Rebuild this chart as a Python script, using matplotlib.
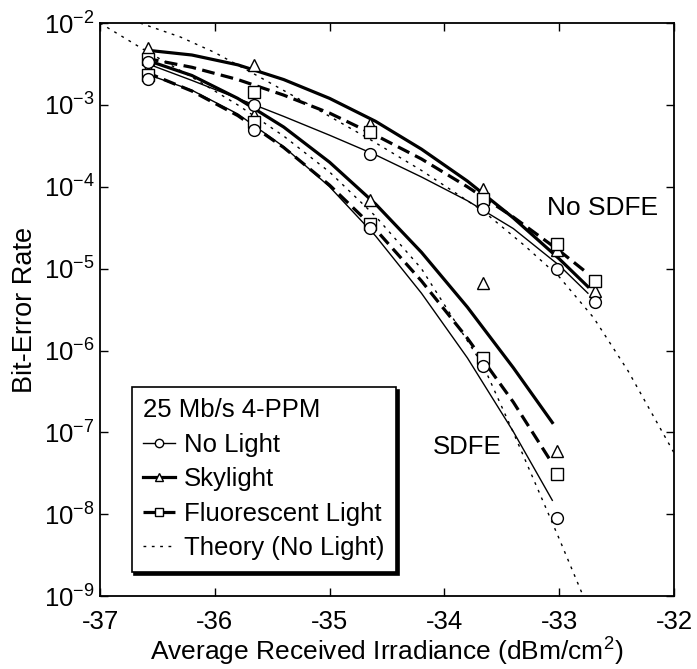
import numpy as np
import matplotlib.pyplot as plt
from matplotlib.lines import Line2D

plt.rcParams['font.family'] = ['Liberation Sans', 'DejaVu Sans']
plt.rcParams['mathtext.fontset'] = 'custom'
plt.rcParams['mathtext.rm'] = 'Liberation Sans'
plt.rcParams['mathtext.it'] = 'Liberation Sans:italic'
plt.rcParams['axes.unicode_minus'] = False

# measured points (x = irradiance, dBm/cm^2)
x_meas = [-36.58, -35.66, -34.65, -33.66, -33.02, -32.69]
x_meas_sdfe = [-36.58, -35.66, -34.65, -33.66, -33.02]

# no SDFE
ns_nolight = [3.3e-3, 1.0e-3, 2.5e-4, 5.3e-5, 1.0e-5, 3.9e-6]
ns_sky = [4.9e-3, 3.1e-3, 5.9e-4, 9.3e-5, 1.7e-5, 5.4e-6]
ns_fluor = [3.6e-3, 1.45e-3, 4.7e-4, 7.1e-5, 2.0e-5, 7.1e-6]
# SDFE
s_nolight = [2.1e-3, 4.9e-4, 3.1e-5, 6.4e-7, 8.9e-9]
s_sky = [2.8e-3, 7.6e-4, 6.9e-5, 6.6e-6, 6.0e-8]
s_fluor = [2.3e-3, 6.2e-4, 3.5e-5, 8.1e-7, 3.1e-8]

# fitted curves (log10 BER)
ns_curve_x = [-36.6, -36.2, -35.8, -35.4, -35.0, -34.6, -34.2, -33.8, -33.4, -33.0, -32.75]
ns_nolight_fit = [-2.49, -2.70, -2.92, -3.14, -3.37, -3.61, -3.88, -4.17, -4.51, -4.96, -5.3]
ns_sky_fit = [-2.33, -2.39, -2.51, -2.69, -2.92, -3.20, -3.54, -3.93, -4.38, -4.88, -5.22]
ns_fluor_fit = [-2.43, -2.54, -2.69, -2.88, -3.10, -3.37, -3.66, -4.00, -4.37, -4.78, -5.06]

s_curve_x = [-36.6, -36.2, -35.8, -35.4, -35.0, -34.6, -34.2, -33.8, -33.4, -33.06]
s_nolight_fit = [-2.62, -2.82, -3.11, -3.51, -4.00, -4.60, -5.30, -6.09, -6.99, -7.83]
s_sky_fit = [-2.45, -2.64, -2.92, -3.27, -3.70, -4.21, -4.80, -5.47, -6.21, -6.88]
s_fluor_fit = [-2.60, -2.83, -3.13, -3.52, -3.98, -4.52, -5.15, -5.85, -6.63, -7.38]

# theory (no light)
ns_theory_x = [-36.65, -36.3, -36.0, -35.66, -35.2, -34.65, -34.2, -33.66, -33.3, -33.0, -32.7, -32.4, -32.0]
ns_theory = [-2.0, -2.17, -2.36, -2.62, -2.98, -3.42, -3.80, -4.30, -4.72, -5.1, -5.6, -6.25, -7.25]
s_theory_x = [-37.0, -36.6, -36.2, -35.8, -35.4, -35.0, -34.6, -34.2, -33.66, -33.4, -33.2, -33.0, -32.8]
s_theory = [-2.0, -2.34, -2.66, -3.0, -3.38, -3.82, -4.36, -5.0, -6.19, -7.0, -7.65, -8.3, -8.97]

fig = plt.figure(figsize=(6.97, 6.69), dpi=100)
ax = fig.add_axes([0.1435, 0.109, 0.8235, 0.8565])

thick = 2.3
thin = 1.0
dash_style = (0, (4, 2))
dot_style = (0, (2, 4))

ax.plot(ns_curve_x, 10 ** np.array(ns_nolight_fit), color='k', lw=thin)
ax.plot(ns_curve_x, 10 ** np.array(ns_sky_fit), color='k', lw=thick)
ax.plot(ns_curve_x, 10 ** np.array(ns_fluor_fit), color='k', lw=thick, ls=dash_style)
ax.plot(s_curve_x, 10 ** np.array(s_nolight_fit), color='k', lw=thin)
ax.plot(s_curve_x, 10 ** np.array(s_sky_fit), color='k', lw=thick)
ax.plot(s_curve_x, 10 ** np.array(s_fluor_fit), color='k', lw=thick, ls=dash_style)
ax.plot(ns_theory_x, 10 ** np.array(ns_theory), color='k', lw=thin, ls=dot_style)
ax.plot(s_theory_x, 10 ** np.array(s_theory), color='k', lw=thin, ls=dot_style)

mk = dict(ls='none', mfc='white', mec='k', mew=1.0, ms=8.5)
ax.plot(x_meas, ns_sky, marker='^', **mk)
ax.plot(x_meas_sdfe, s_sky, marker='^', **mk)
ax.plot(x_meas, ns_fluor, marker='s', **mk)
ax.plot(x_meas_sdfe, s_fluor, marker='s', **mk)
ax.plot(x_meas, ns_nolight, marker='o', **mk)
ax.plot(x_meas_sdfe, s_nolight, marker='o', **mk)

ax.set_yscale('log')
ax.set_xlim(-37, -32)
ax.set_ylim(1e-9, 1e-2)
ax.set_xticks([-37, -36, -35, -34, -33, -32])
ax.set_xticklabels(['-37', '-36', '-35', '-34', '-33', '-32'])
ax.set_yticks([10.0 ** k for k in range(-9, -1)])
ax.yaxis.set_minor_locator(plt.NullLocator())
ax.tick_params(direction='in', top=True, right=True, length=6, width=1, labelsize=18.5)
ax.tick_params(axis='x', pad=10)
ax.tick_params(axis='y', pad=4)
for s in ax.spines.values():
    s.set_linewidth(1.3)

ax.set_xlabel('Average Received Irradiance (dBm/cm$^2$)', fontsize=19, labelpad=1)
ax.set_ylabel('Bit-Error Rate', fontsize=19.5, labelpad=4)

ax.text(-33.106, 10 ** -4.26, 'No SDFE', fontsize=19, va='center')
ax.text(-34.10, 10 ** -7.18, 'SDFE', fontsize=18.5, va='center')

handles = [
    Line2D([], [], color='k', lw=thin, marker='o', mfc='white', mec='k', ms=6),
    Line2D([], [], color='k', lw=thick, marker='^', mfc='white', mec='k', ms=6),
    Line2D([], [], color='k', lw=thick, ls=dash_style, marker='s', mfc='white', mec='k', ms=6),
    Line2D([], [], color='k', lw=thin, ls=dot_style),
]
labels = ['No Light', 'Skylight', 'Fluorescent Light', 'Theory (No Light)']
leg = ax.legend(handles, labels, title='25 Mb/s 4-PPM', loc='lower left',
                bbox_to_anchor=(0.055, 0.042), borderaxespad=0, alignment='left',
                fontsize=18.5, title_fontsize=18.5,
                frameon=True, fancybox=False, shadow={'color': 'k', 'alpha': 1},
                edgecolor='k', framealpha=1,
                handlelength=1.25, handletextpad=0.35, borderpad=0.45, labelspacing=0.41)
leg.get_frame().set_linewidth(1.2)

fig.savefig('out.png', dpi=100)
